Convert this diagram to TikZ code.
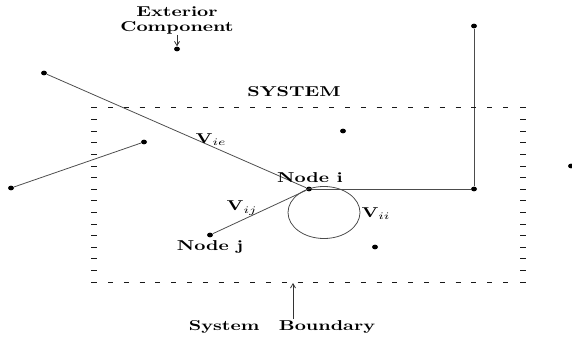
\documentclass[tikz,border=0pt]{standalone}
\usepackage{amsmath}
\usetikzlibrary{arrows.meta,shapes.geometric}

\begin{document}
\begin{tikzpicture}[x=0.7pt, y=-0.7pt,
    dot/.style={ellipse, fill=black, inner sep=0pt, minimum width=4.2pt, minimum height=3.3pt},
    wire/.style={black!70, line width=0.55pt},
    bnd/.style={black!90, line width=0.7pt},
    lbl/.style={font=\bfseries, xscale=1.36, inner sep=0.5pt},
    pointer/.style={black!80, line width=0.55pt, -{Straight Barb[length=3pt,width=3.5pt]}}]
  \useasboundingbox (0,0) rectangle (572,339);
  % Dots
  \node[dot] (ext)  at (177,49)  {};
  \node[dot] (dA)   at (44,73)   {};
  \node[dot] (dTop) at (474,26)  {};
  \node[dot] (dCor) at (474,189) {};
  \node[dot] (dB)   at (144,142) {};
  \node[dot] (dC)   at (11,188)  {};
  \node[dot] (ni)   at (309,189) {};
  \node[dot] (nj)   at (210,235) {};
  \node[dot] (dS1)  at (343,131) {};
  \node[dot] (dS2)  at (375,247) {};
  \node[dot] (dR)   at (571,166) {};
  % Connectors
  \draw[wire] (dA) -- (ni);
  \draw[wire] (dB) -- (dC);
  \draw[wire] (dTop) -- (dCor) -- (ni);
  \draw[wire] (nj) -- (ni);
  \draw[wire] (324,212.5) ellipse [x radius=36, y radius=26];
  % System boundary
  \foreach \k in {0,...,25} {
    \draw[bnd] (108+15.8*\k,108) -- +(5,0);
    \draw[bnd] (108+15.8*\k,282) -- +(5,0);
  }
  \foreach \k in {0,...,15} {
    \draw[bnd] (91,108+11.6*\k) -- +(6,0);
    \draw[bnd] (520,108+11.6*\k) -- +(6,0);
  }
  % Labels
  \node[lbl, align=center] (extl) at (177,20) {Exterior\\[-1.5pt]Component};
  \draw[pointer] (extl.south) -- (ext);
  \node[lbl] (sys) at (294,92) {SYSTEM};
  \node[lbl] (vie) at (211,140) {$\mathbf{V}_{ie}$};
  \node[lbl] (nil) at (310,178) {Node i};
  \node[lbl] (vij) at (242,208) {$\mathbf{V}_{ij}$};
  \node[lbl] (njl) at (210,247) {Node j};
  \node[lbl] (vii) at (376,214) {$\mathbf{V}_{ii}$};
  \node[lbl] (sbl) at (282,327) {System\quad Boundary};
  \coordinate (sbt) at (293,283);
  \draw[pointer] (293,319) -- (sbt);
\end{tikzpicture}
\end{document}
